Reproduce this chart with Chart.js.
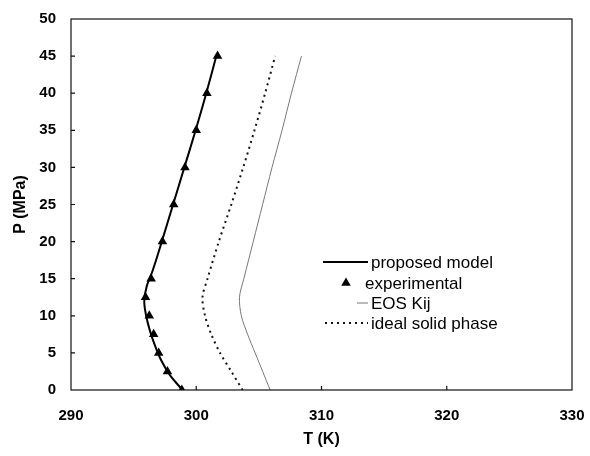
<!DOCTYPE html>
<html>
<head>
<meta charset="utf-8">
<script src="https://cdn.jsdelivr.net/npm/chart.js@4"></script>
<style>
  body { margin: 0; background: #fff; }
  canvas { display: block; }
</style>
</head>
<body>
<canvas id="myChart" width="590" height="456"></canvas>
<script>
// datos (T en K, P en MPa)
const presionModelo = [0, 2, 4, 6, 8, 10, 12, 14, 16, 20, 25, 30, 35, 40, 45];
const tempModelo = [298.9, 297.9, 297.2, 296.7, 296.3, 296.0, 295.85, 296.05, 296.5, 297.25, 298.15, 299.05, 299.95, 300.8, 301.6];

const presionExp = [0, 2.5, 5, 7.5, 10, 12.5, 15, 20, 25, 30, 35, 40, 45];
const tempExp = [298.85, 297.7, 297.0, 296.6, 296.25, 295.95, 296.4, 297.3, 298.2, 299.1, 300.0, 300.85, 301.7];

const presionCurvas = [0, 2.5, 5, 7.5, 10, 12.5, 15, 20, 25, 30, 35, 40, 45];
const tempEOS = [305.9, 305.3, 304.7, 304.1, 303.6, 303.45, 303.8, 304.55, 305.3, 306.05, 306.85, 307.6, 308.4];
const tempIdeal = [303.7, 302.8, 301.9, 301.2, 300.7, 300.5, 300.9, 301.8, 302.8, 303.75, 304.65, 305.5, 306.3];

const ticksT = [290, 300, 310, 320, 330];
const ticksP = [0, 5, 10, 15, 20, 25, 30, 35, 40, 45, 50];

const etiquetas = ["proposed model", "experimental", "EOS Kij", "ideal solid phase"];

function puntos(xs, ys) {
  return xs.map((x, i) => ({ x: x, y: ys[i] }));
}

const fuente = "'Liberation Sans', Arial, sans-serif";

// marco completo y marcas hacia adentro
const marcoPlugin = {
  id: "marco",
  afterDraw(chart) {
    const ctx = chart.ctx;
    const a = chart.chartArea;
    const sx = chart.scales.x;
    const sy = chart.scales.y;
    ctx.save();
    ctx.strokeStyle = "#111";
    ctx.lineWidth = 1.2;
    ctx.strokeRect(a.left, a.top, a.right - a.left, a.bottom - a.top);
    ctx.beginPath();
    ticksT.slice(1, -1).forEach((t) => {
      const px = sx.getPixelForValue(t);
      ctx.moveTo(px, a.bottom);
      ctx.lineTo(px, a.bottom - 4);
    });
    ticksP.slice(1, -1).forEach((p) => {
      const py = sy.getPixelForValue(p);
      ctx.moveTo(a.left, py);
      ctx.lineTo(a.left + 4, py);
    });
    ctx.stroke();
    ctx.restore();
  },
};

// leyenda dentro del area del grafico
const leyendaPlugin = {
  id: "leyenda",
  afterDraw(chart) {
    const ctx = chart.ctx;
    const filas = [
      { y: 262, x0: 323, x1: 368 },
      { y: 283, x0: 346, x1: 346 },
      { y: 303, x0: 357, x1: 368 },
      { y: 323, x0: 325, x1: 368 },
    ];
    ctx.save();
    ctx.font = "17px " + fuente;
    ctx.textBaseline = "middle";
    ctx.fillStyle = "#000";
    chart.data.datasets.forEach((ds, i) => {
      const f = filas[i];
      if (ds.showLine) {
        ctx.beginPath();
        ctx.strokeStyle = ds.borderColor;
        ctx.lineWidth = ds.borderWidth;
        ctx.setLineDash(ds.borderDash || []);
        ctx.moveTo(f.x0, f.y);
        ctx.lineTo(f.x1, f.y);
        ctx.stroke();
        ctx.setLineDash([]);
      } else {
        const r = ds.pointRadius;
        ctx.beginPath();
        ctx.moveTo(f.x0, f.y - r);
        ctx.lineTo(f.x0 + r * 0.866, f.y + r * 0.5);
        ctx.lineTo(f.x0 - r * 0.866, f.y + r * 0.5);
        ctx.closePath();
        ctx.fillStyle = "#000";
        ctx.fill();
      }
      ctx.fillStyle = "#000";
      ctx.fillText(ds.label, i === 1 ? 365 : 371, f.y + 1);
    });
    ctx.restore();
  },
};

const config = {
  type: "scatter",
  data: {
    datasets: [
      {
        label: etiquetas[0],
        data: puntos(tempModelo, presionModelo),
        showLine: true,
        tension: 0.35,
        borderColor: "#000",
        borderWidth: 2,
        pointRadius: 0,
      },
      {
        label: etiquetas[1],
        data: puntos(tempExp, presionExp),
        showLine: false,
        pointStyle: "triangle",
        pointRadius: 5.5,
        backgroundColor: "#000",
        borderColor: "#000",
        borderWidth: 0,
      },
      {
        label: etiquetas[2],
        data: puntos(tempEOS, presionCurvas),
        showLine: true,
        tension: 0.3,
        borderColor: "#777",
        borderWidth: 1,
        pointRadius: 0,
      },
      {
        label: etiquetas[3],
        data: puntos(tempIdeal, presionCurvas),
        showLine: true,
        tension: 0.3,
        borderColor: "#111",
        borderWidth: 2,
        borderDash: [2, 4],
        pointRadius: 0,
      },
    ],
  },
  options: {
    responsive: false,
    animation: false,
    devicePixelRatio: 1,
    layout: { padding: { top: 19, right: 18, left: 0, bottom: 0 } },
    plugins: {
      legend: { display: false },
      tooltip: { enabled: false },
    },
    scales: {
      x: {
        type: "linear",
        min: 290,
        max: 330,
        afterBuildTicks: (s) => { s.ticks = ticksT.map((v) => ({ value: v })); },
        afterFit: (s) => { s.height = 66; s.paddingLeft = 0; s.paddingRight = 0; },
        grid: { drawOnChartArea: false, drawTicks: false },
        border: { display: false },
        ticks: { color: "#000", padding: 17, font: { family: fuente, size: 15, weight: "bold" } },
        title: {
          display: true,
          text: "T (K)",
          color: "#000",
          font: { family: fuente, size: 16, weight: "bold" },
          padding: { top: 0, bottom: 7 },
        },
      },
      y: {
        type: "linear",
        min: 0,
        max: 50,
        afterBuildTicks: (s) => { s.ticks = ticksP.map((v) => ({ value: v })); },
        afterFit: (s) => { s.width = 71; s.paddingTop = 0; s.paddingBottom = 0; },
        grid: { drawOnChartArea: false, drawTicks: false },
        border: { display: false },
        ticks: { color: "#000", padding: 15, font: { family: fuente, size: 15, weight: "bold" } },
        title: {
          display: true,
          text: "P (MPa)",
          color: "#000",
          font: { family: fuente, size: 16, weight: "bold" },
          padding: { top: 11, bottom: 0 },
        },
      },
    },
  },
  plugins: [marcoPlugin, leyendaPlugin],
};

new Chart(document.getElementById("myChart"), config);
</script>
</body>
</html>
